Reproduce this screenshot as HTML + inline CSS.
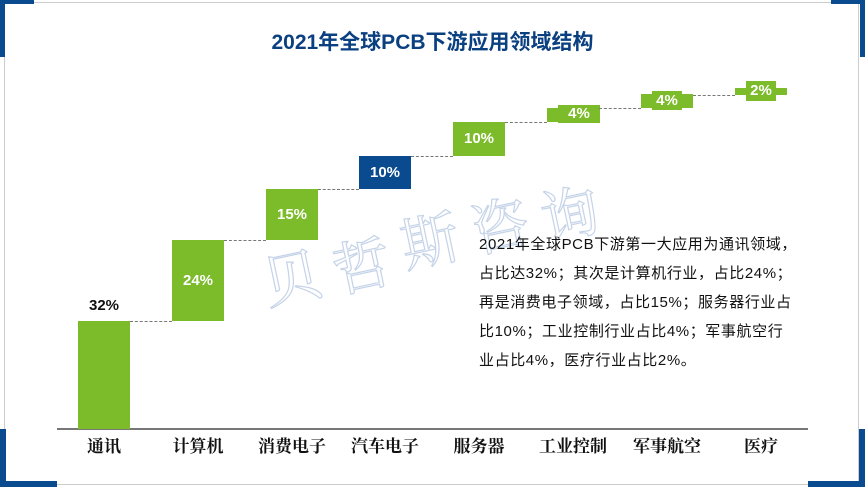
<!DOCTYPE html>
<html><head><meta charset="utf-8"><style>
html,body{margin:0;padding:0;background:#fff}
body{width:865px;height:487px;position:relative;overflow:hidden;font-family:"Liberation Sans","Noto Sans CJK SC",sans-serif}
.a{position:absolute}
.b{position:absolute;background:#7cbb2a;color:#fff;font-weight:bold;font-size:15px;text-align:center;width:52px}
.nb{background:#0a4a8f}
.l{position:absolute;background:#7cbb2a;color:#fff;font-weight:bold;font-size:15px;text-align:center}
.d{position:absolute;border-top:1.5px dashed #777;height:0}
.c{position:absolute;top:432px;font-family:"Noto Serif CJK SC",serif;font-size:17px;font-weight:bold;color:#111;width:110px;text-align:center}
.w{position:absolute;font-family:"Noto Serif CJK SC",serif;font-size:58px;color:rgba(255,255,255,0);-webkit-text-stroke:1.2px #c5d3e8;transform:rotate(-12deg)}
.t{position:absolute;left:479px;top:230px;font-size:15px;letter-spacing:0.6px;line-height:29px;color:#111;width:340px;white-space:nowrap}
</style></head><body>
<div class="a" style="left:4px;top:2px;width:855px;height:483px;border:1px solid #ccc;box-sizing:border-box"></div>
<div class="a" style="left:0;top:0;width:34px;height:4px;background:#0a4a8f"></div>
<div class="a" style="left:0;top:0;width:5px;height:57px;background:#0a4a8f"></div>
<div class="a" style="right:0;top:0;width:34px;height:4px;background:#0a4a8f"></div>
<div class="a" style="right:0;top:0;width:5px;height:57px;background:#0a4a8f"></div>
<div class="a" style="left:0;top:429px;width:6px;height:58px;background:#0a4a8f"></div>
<div class="a" style="left:0;top:481px;width:57px;height:6px;background:#0a4a8f"></div>
<div class="a" style="right:0;top:429px;width:6px;height:58px;background:#0a4a8f"></div>
<div class="a" style="right:0;top:481px;width:57px;height:6px;background:#0a4a8f"></div>
<div class="a" style="left:0;width:865px;top:26px;text-align:center;font-size:21px;font-weight:bold;color:#0a3f80">2021年全球PCB下游应用领域结构</div>

<div class="w" style="left:262px;top:232px">贝</div>
<div class="w" style="left:332px;top:220px">哲</div>
<div class="w" style="left:400px;top:195px">斯</div>
<div class="w" style="left:470px;top:180px">咨</div>
<div class="w" style="left:540px;top:168px">询</div>

<div class="a" style="left:57px;top:428px;width:751px;height:1.5px;background:#777"></div>
<div class="b" style="left:78px;top:321px;height:108px"></div>
<div class="a" style="left:78px;top:297px;width:52px;text-align:center;font-weight:bold;font-size:15px;color:#111">32%</div>
<div class="d" style="left:130px;top:321px;width:42px"></div>
<div class="b" style="left:172px;top:240px;height:81px;line-height:81px">24%</div>
<div class="d" style="left:224px;top:240px;width:42px"></div>
<div class="b" style="left:266px;top:189px;height:51px;line-height:51px">15%</div>
<div class="d" style="left:318px;top:189px;width:41px"></div>
<div class="b nb" style="left:359px;top:156px;height:33px;line-height:33px">10%</div>
<div class="d" style="left:411px;top:156px;width:42px"></div>
<div class="b" style="left:453px;top:122px;height:34px;line-height:34px">10%</div>
<div class="d" style="left:505px;top:122px;width:42px"></div>
<div class="b" style="left:547px;top:108px;height:14px"></div>
<div class="l" style="left:558px;top:105px;width:42px;height:18px;line-height:18px">4%</div>
<div class="d" style="left:599px;top:108px;width:42px"></div>
<div class="b" style="left:641px;top:94px;height:14px"></div>
<div class="l" style="left:652px;top:91px;width:30px;height:19px;line-height:19px">4%</div>
<div class="d" style="left:693px;top:95px;width:42px"></div>
<div class="b" style="left:735px;top:88px;height:7px"></div>
<div class="l" style="left:746px;top:81px;width:30px;height:20px;line-height:20px">2%</div>

<div class="c" style="left:49px">通讯</div>
<div class="c" style="left:143px">计算机</div>
<div class="c" style="left:237px">消费电子</div>
<div class="c" style="left:330px">汽车电子</div>
<div class="c" style="left:424px">服务器</div>
<div class="c" style="left:518px">工业控制</div>
<div class="c" style="left:612px">军事航空</div>
<div class="c" style="left:706px">医疗</div>

<div class="t">2021年全球PCB下游第一大应用为通讯领域，<br>占比达32%；其次是计算机行业，占比24%；<br>再是消费电子领域，占比15%；服务器行业占<br>比10%；工业控制行业占比4%；军事航空行<br>业占比4%，医疗行业占比2%。</div>
</body></html>
